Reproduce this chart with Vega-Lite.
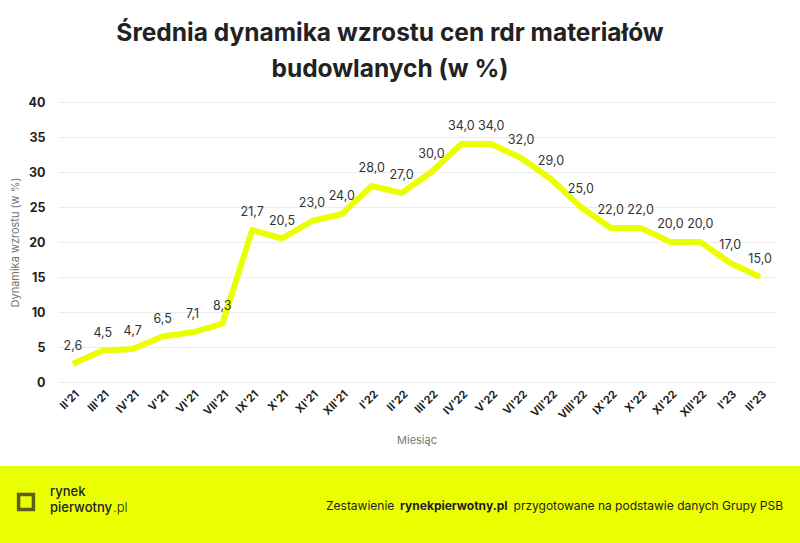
{
  "$schema": "https://vega.github.io/schema/vega-lite/v6.json",
  "padding": {"top": 20, "left": 0, "right": 0, "bottom": 0},
  "background": "white",
  "title": {
    "text": ["Średnia dynamika wzrostu cen rdr materiałów", "budowlanych (w %)"],
    "font": "Inter",
    "fontSize": 24.5,
    "fontWeight": "bold",
    "color": "#222222",
    "lineHeight": 36,
    "anchor": "middle",
    "offset": 14,
    "dx": -10
  },
  "config": {
    "locale": {"number": {"decimal": ",", "thousands": " ", "grouping": [3], "currency": ["", " zł"]}},
    "font": "Inter",
    "view": {"stroke": null}
  },
  "spacing": 20,
  "vconcat": [
    {
      "width": 717,
      "height": 280,
      "data": {
        "values": [
          {"miesiac": "II'21", "wartosc": 2.6},
          {"miesiac": "III'21", "wartosc": 4.5},
          {"miesiac": "IV'21", "wartosc": 4.7},
          {"miesiac": "V'21", "wartosc": 6.5},
          {"miesiac": "VI'21", "wartosc": 7.1},
          {"miesiac": "VII'21", "wartosc": 8.3},
          {"miesiac": "IX'21", "wartosc": 21.7},
          {"miesiac": "X'21", "wartosc": 20.5},
          {"miesiac": "XI'21", "wartosc": 23.0},
          {"miesiac": "XII'21", "wartosc": 24.0},
          {"miesiac": "I'22", "wartosc": 28.0},
          {"miesiac": "II'22", "wartosc": 27.0},
          {"miesiac": "III'22", "wartosc": 30.0},
          {"miesiac": "IV'22", "wartosc": 34.0},
          {"miesiac": "V'22", "wartosc": 34.0},
          {"miesiac": "VI'22", "wartosc": 32.0},
          {"miesiac": "VII'22", "wartosc": 29.0},
          {"miesiac": "VIII'22", "wartosc": 25.0},
          {"miesiac": "IX'22", "wartosc": 22.0},
          {"miesiac": "X'22", "wartosc": 22.0},
          {"miesiac": "XI'22", "wartosc": 20.0},
          {"miesiac": "XII'22", "wartosc": 20.0},
          {"miesiac": "I'23", "wartosc": 17.0},
          {"miesiac": "II'23", "wartosc": 15.0}
        ]
      },
      "encoding": {
        "x": {
          "field": "miesiac",
          "type": "ordinal",
          "sort": null,
          "scale": {"type": "point", "padding": 0.5},
          "axis": {
            "title": "Miesiąc",
            "titleFontSize": 11,
            "titleFontWeight": "normal",
            "titleColor": "#777777",
            "titlePadding": 14,
            "labelAngle": -45,
            "labelFontSize": 11,
            "labelFontWeight": "bold",
            "labelColor": "#222222",
            "labelPadding": 6,
            "ticks": false,
            "domain": false,
            "grid": false
          }
        },
        "y": {
          "field": "wartosc",
          "type": "quantitative",
          "scale": {"domain": [0, 40]},
          "axis": {
            "title": "Dynamika wzrostu (w %)",
            "titleFontSize": 11,
            "titleFontWeight": "normal",
            "titleColor": "#777777",
            "titleX": -43,
            "titleBaseline": "middle",
            "values": [0, 5, 10, 15, 20, 25, 30, 35, 40],
            "labelFontSize": 12.5,
            "labelFontWeight": "bold",
            "labelColor": "#222222",
            "labelPadding": 13,
            "ticks": false,
            "domain": false,
            "gridColor": "#ececec",
            "gridWidth": 1
          }
        }
      },
      "layer": [
        {
          "mark": {"type": "line", "color": "#EAFF00", "strokeWidth": 6, "strokeJoin": "round", "strokeCap": "butt"}
        },
        {
          "mark": {"type": "text", "baseline": "bottom", "dy": -11, "fontSize": 12.5, "color": "#333333"},
          "encoding": {
            "text": {"field": "wartosc", "type": "quantitative", "format": ".1f"}
          }
        }
      ]
    },
    {
      "width": 717,
      "height": 78,
      "view": {"stroke": null},
      "layer": [
        {
          "data": {"values": [{"t": "tło"}]},
          "mark": {"type": "rect", "color": "#EAFF00", "clip": false},
          "encoding": {
            "x": {"datum": 0, "type": "quantitative", "scale": {"domain": [58, 775], "zero": false, "nice": false}, "axis": null},
            "x2": {"datum": 800},
            "y": {"datum": 0, "type": "quantitative", "scale": {"domain": [0, 78], "reverse": true, "nice": false}, "axis": null},
            "y2": {"datum": 78}
          }
        },
        {
          "data": {"values": [{"t": "logo"}]},
          "mark": {"type": "point", "shape": "square", "filled": false, "stroke": "#1e1e28", "strokeWidth": 3.5, "size": 220},
          "encoding": {
            "x": {"datum": 26, "type": "quantitative", "scale": {"domain": [58, 775], "zero": false, "nice": false}, "axis": null},
            "y": {"datum": 36, "type": "quantitative", "scale": {"domain": [0, 78], "reverse": true, "nice": false}, "axis": null}
          }
        },
        {
          "data": {"values": [{"t": "rynek"}]},
          "mark": {"type": "text", "align": "left", "baseline": "middle", "fontSize": 13, "fontWeight": 500, "color": "#1e1e28"},
          "encoding": {
            "x": {"datum": 50, "type": "quantitative", "scale": {"domain": [58, 775], "zero": false, "nice": false}, "axis": null},
            "y": {"datum": 26, "type": "quantitative", "scale": {"domain": [0, 78], "reverse": true, "nice": false}, "axis": null},
            "text": {"field": "t"}
          }
        },
        {
          "data": {"values": [{"t": "pierwotny"}]},
          "mark": {"type": "text", "align": "left", "baseline": "middle", "fontSize": 13, "fontWeight": 500, "color": "#1e1e28"},
          "encoding": {
            "x": {"datum": 50, "type": "quantitative", "scale": {"domain": [58, 775], "zero": false, "nice": false}, "axis": null},
            "y": {"datum": 42, "type": "quantitative", "scale": {"domain": [0, 78], "reverse": true, "nice": false}, "axis": null},
            "text": {"field": "t"}
          }
        },
        {
          "data": {"values": [{"t": ".pl"}]},
          "mark": {"type": "text", "align": "left", "baseline": "middle", "fontSize": 13, "fontWeight": 300, "color": "#1e1e28"},
          "encoding": {
            "x": {"datum": 113, "type": "quantitative", "scale": {"domain": [58, 775], "zero": false, "nice": false}, "axis": null},
            "y": {"datum": 42, "type": "quantitative", "scale": {"domain": [0, 78], "reverse": true, "nice": false}, "axis": null},
            "text": {"field": "t"}
          }
        },
        {
          "data": {"values": [{"t": "Zestawienie"}]},
          "mark": {"type": "text", "align": "left", "baseline": "middle", "fontSize": 12, "fontWeight": "normal", "color": "#1e1e28"},
          "encoding": {
            "x": {"datum": 326, "type": "quantitative", "scale": {"domain": [58, 775], "zero": false, "nice": false}, "axis": null},
            "y": {"datum": 40, "type": "quantitative", "scale": {"domain": [0, 78], "reverse": true, "nice": false}, "axis": null},
            "text": {"field": "t"}
          }
        },
        {
          "data": {"values": [{"t": "rynekpierwotny.pl"}]},
          "mark": {"type": "text", "align": "left", "baseline": "middle", "fontSize": 12, "fontWeight": "bold", "color": "#1e1e28"},
          "encoding": {
            "x": {"datum": 400, "type": "quantitative", "scale": {"domain": [58, 775], "zero": false, "nice": false}, "axis": null},
            "y": {"datum": 40, "type": "quantitative", "scale": {"domain": [0, 78], "reverse": true, "nice": false}, "axis": null},
            "text": {"field": "t"}
          }
        },
        {
          "data": {"values": [{"t": "przygotowane na podstawie danych Grupy PSB"}]},
          "mark": {"type": "text", "align": "right", "baseline": "middle", "fontSize": 12, "fontWeight": "normal", "color": "#1e1e28"},
          "encoding": {
            "x": {"datum": 783, "type": "quantitative", "scale": {"domain": [58, 775], "zero": false, "nice": false}, "axis": null},
            "y": {"datum": 40, "type": "quantitative", "scale": {"domain": [0, 78], "reverse": true, "nice": false}, "axis": null},
            "text": {"field": "t"}
          }
        }
      ]
    }
  ]
}
